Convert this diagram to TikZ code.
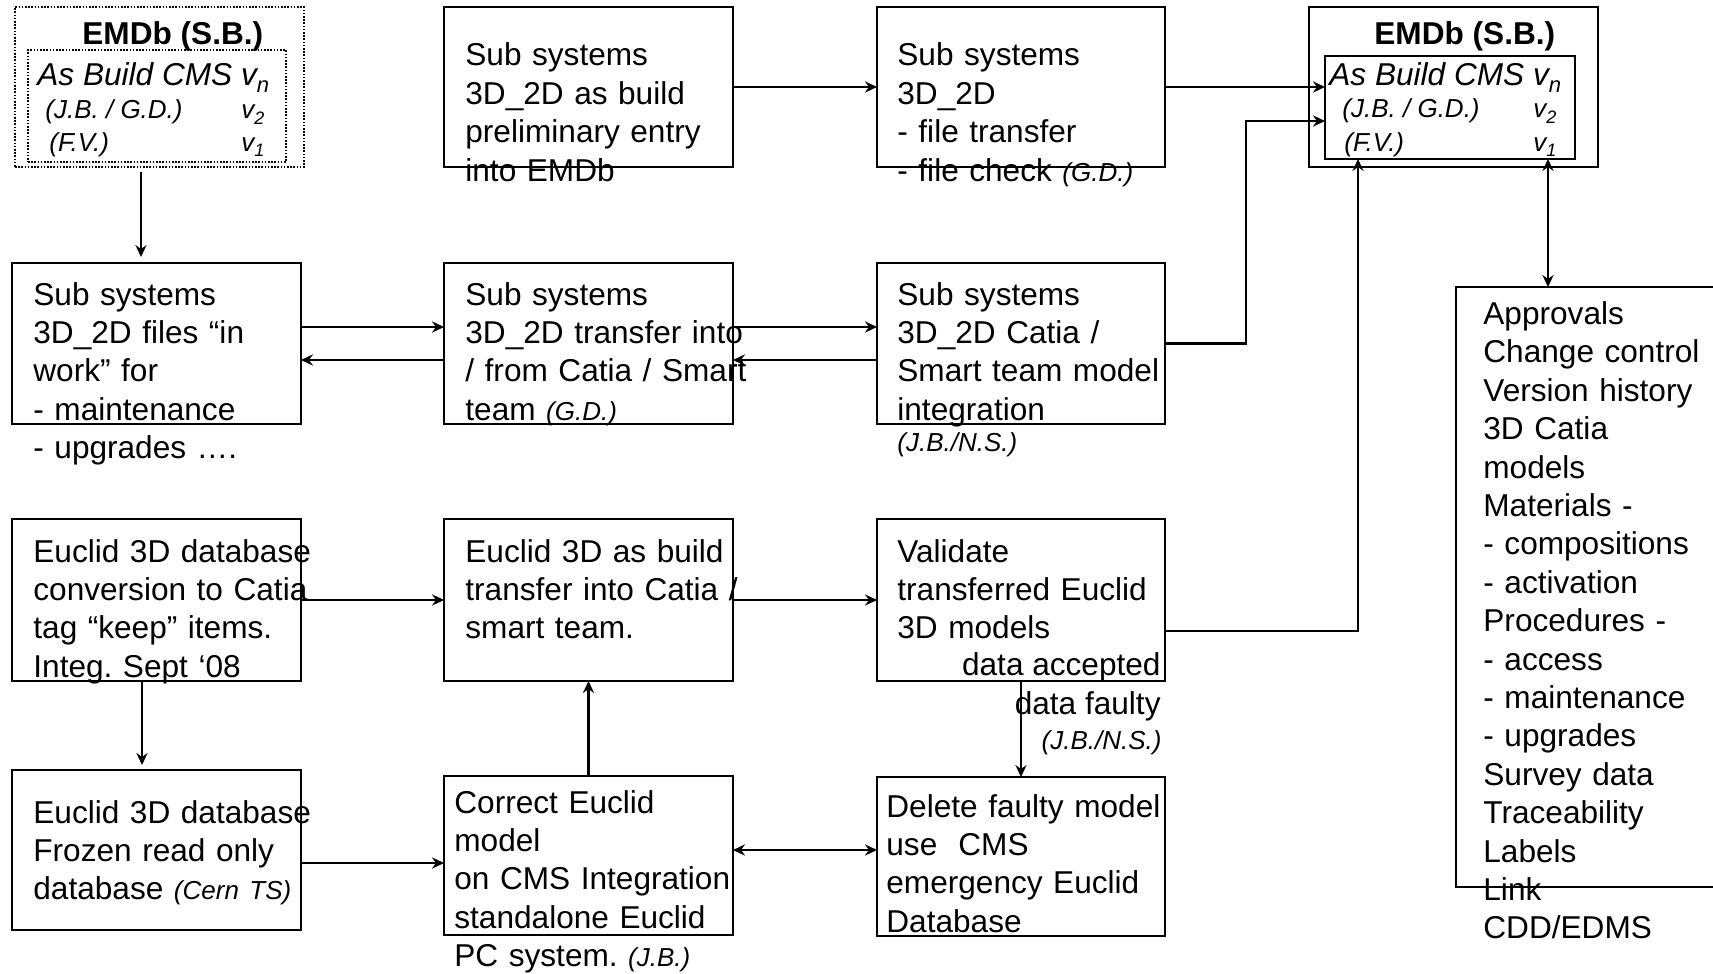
\documentclass[tikz,border=0pt]{standalone}
\usepackage{fontspec}
\setmainfont{Liberation Sans}
\usetikzlibrary{arrows.meta}
\frenchspacing
\newcommand\mybig{\fontsize{15.8}{19.2}\selectfont}
\newcommand\mysmall{\fontsize{13}{15}\selectfont\itshape}
\newcommand\mysubn[2]{\raisebox{-0.22em}{\fontsize{#1}{#1}\selectfont #2}}
\begin{document}
\begin{tikzpicture}[x=0.5pt,y=-0.5pt,
  bx/.style={draw, line width=1.25pt, anchor=north west, inner sep=0pt, outer sep=0pt},
  dbx/.style={draw, line width=0.9pt, dash pattern=on 0.8pt off 0.8pt, anchor=north west, inner sep=0pt, outer sep=0pt},
  tx/.style={anchor=base west, inner sep=0pt, text width=230pt, align=left, font=\mybig},
  lab/.style={inner sep=0pt, font=\mysmall},
  arr/.style={line width=1.1pt, -{Stealth[length=6pt,width=5.6pt,inset=2pt]}},
  arrr/.style={line width=1.1pt, {Stealth[length=6pt,width=5.6pt,inset=2pt]}-{Stealth[length=6pt,width=5.6pt,inset=2pt]}}
]
\useasboundingbox (0,0) rectangle (1713,974);

% ---- left EMDb (dotted)
\node[dbx, minimum width=144.5pt, minimum height=80pt] (ldbO) at (15,7) {};
\node[dbx, minimum width=129pt, minimum height=56pt] (ldbI) at (28,50) {};
\node[anchor=base west, inner sep=0pt, font=\mybig\bfseries] (ldbT) at (82,45) {EMDb (S.B.)};
\node[anchor=base west, inner sep=0pt, font=\mybig\itshape] (ldbV) at (37,86) {As Build CMS v\mysubn{11}{n}};
\node[anchor=base west, lab] (ldbJ) at (45,119) {(J.B. / G.D.)};
\node[anchor=base west, lab] (ldbJv) at (241,119) {v\mysubn{9}{2}};
\node[anchor=base west, lab] (ldbF) at (49,151) {(F.V.)};
\node[anchor=base west, lab] (ldbFv) at (241,151) {v\mysubn{9}{1}};

% ---- right EMDb
\node[bx, minimum width=144.5pt, minimum height=80pt] (rdbO) at (1309,7) {};
\node[bx, minimum width=125pt, minimum height=51.5pt] (rdbI) at (1325,56) {};
\node[anchor=base west, inner sep=0pt, font=\mybig\bfseries] (rdbT) at (1374,45) {EMDb (S.B.)};
\node[anchor=base west, inner sep=0pt, font=\mybig\itshape] (rdbV) at (1329,86) {As Build CMS v\mysubn{11}{n}};
\node[anchor=base west, lab] (rdbJ) at (1342,118) {(J.B. / G.D.)};
\node[anchor=base west, lab] (rdbJv) at (1533,118) {v\mysubn{9}{2}};
\node[anchor=base west, lab] (rdbF) at (1344,151) {(F.V.)};
\node[anchor=base west, lab] (rdbFv) at (1533,151) {v\mysubn{9}{1}};

% ---- boxes
\node[bx, minimum width=144.5pt, minimum height=80pt] (A) at (444,7) {};
\node[bx, minimum width=144pt, minimum height=80pt] (B) at (877,7) {};
\node[bx, minimum width=144.5pt, minimum height=80.5pt] (C) at (12,263) {};
\node[bx, minimum width=144.5pt, minimum height=80.5pt] (D) at (444,263) {};
\node[bx, minimum width=144pt, minimum height=80.5pt] (E) at (877,263) {};
\node[bx, minimum width=144.5pt, minimum height=81pt] (F) at (12,519) {};
\node[bx, minimum width=144.5pt, minimum height=81pt] (G) at (444,519) {};
\node[bx, minimum width=144pt, minimum height=81pt] (H) at (877,519) {};
\node[bx, minimum width=144.5pt, minimum height=80pt] (I) at (12,770) {};
\node[bx, minimum width=144.5pt, minimum height=79.5pt] (J) at (444,776) {};
\node[bx, minimum width=144pt, minimum height=79.5pt] (K) at (877,777) {};
\node[bx, minimum width=137pt, minimum height=300pt] (L) at (1456,287) {};

% ---- texts
\node[tx] (tA) at (465,66) {Sub systems\\3D\_2D as build\\preliminary entry\\into EMDb};
\node[tx] (tB) at (897,66) {Sub systems\\3D\_2D\\- file transfer\\- file check {\mysmall(G.D.)}};
\node[tx] (tC) at (33,305) {Sub systems\\3D\_2D files “in\\work” for\\- maintenance\\- upgrades ….};
\node[tx] (tD) at (465,305) {Sub systems\\3D\_2D transfer into\\/ from Catia / Smart\\team {\mysmall(G.D.)}};
\node[tx] (tE) at (897,305) {Sub systems\\3D\_2D Catia /\\Smart team model\\integration};
\node[anchor=base west, lab] (tEl) at (897,451) {(J.B./N.S.)};
\node[tx] (tF) at (33,562) {Euclid 3D database\\conversion to Catia\\tag “keep” items.\\Integ. Sept ‘08};
\node[tx] (tG) at (465,562) {Euclid 3D as build\\transfer into Catia /\\smart team.};
\node[tx] (tH) at (897,562) {Validate\\transferred Euclid\\3D models};
\node[anchor=base east, inner sep=0pt, font=\mybig] (tHa) at (1161,675) {data accepted};
\node[anchor=base east, inner sep=0pt, font=\mybig] (tHf) at (1161,714) {data faulty};
\node[anchor=base east, lab] (tHl) at (1162,749) {(J.B./N.S.)};
\node[tx] (tI) at (33,823) {Euclid 3D database\\Frozen read only\\database {\mysmall(Cern TS)}};
\node[tx] (tJ) at (454,813) {Correct Euclid\\model\\on CMS Integration\\standalone Euclid\\PC system. {\mysmall(J.B.)}};
\node[tx] (tK) at (886,817) {Delete faulty model\\use\ \ CMS\\emergency Euclid\\Database};
\node[tx] (tL) at (1483,324.5) {Approvals\\Change control\\Version history\\3D Catia\\models\\Materials -\\- compositions\\- activation\\Procedures -\\- access\\- maintenance\\- upgrades\\Survey data\\Traceability\\Labels\\Link\\CDD/EDMS};

% ---- connectors
\coordinate (e1) at (1246,0);
\coordinate (h1) at (1358,0);
\coordinate (r1) at (1548,0);
\draw[arr, shorten <=2.5pt, shorten >=3pt] ([xshift=-9.25pt]ldbO.south) -- ([xshift=-9.25pt]ldbO.south |- C.north);
\draw[arr] (A.east) -- (B.west);
\draw[arr] (B.east) -- (B.east -| rdbI.west);
\draw[arr] ([yshift=8.25pt]C.east) -- ([yshift=8.25pt]C.east -| D.west);
\draw[arr] ([yshift=-8.25pt]D.west) -- ([yshift=-8.25pt]D.west -| C.east);
\draw[arr] ([yshift=8.25pt]D.east) -- ([yshift=8.25pt]D.east -| E.west);
\draw[arr] ([yshift=-8.25pt]E.west) -- ([yshift=-8.25pt]E.west -| D.east);
\draw[arr] (E.east) -- (E.east -| e1) |- ([yshift=-6.75pt]rdbI.west);
\draw[arr] (F.east) -- (F.east -| G.west);
\draw[arr] (G.east) -- (G.east -| H.west);
\draw[arr] ([yshift=-15.5pt]H.east) -| (h1 |- rdbI.south);
\draw[arrr] (r1 |- rdbI.south) -- (r1 |- L.north);
\draw[arr] (H.south) -- (H.south |- K.north);
\draw[arr, shorten >=2.5pt] ([xshift=-7.25pt]F.south) -- ([xshift=-7.25pt]F.south |- I.north);
\draw[arr] ([yshift=-6.5pt]I.east) -- ([yshift=-6.5pt]I.east -| J.west);
\draw[arr] (J.north) -- (J.north |- G.south);
\draw[arrr] ([yshift=2.75pt]J.east) -- ([yshift=2.75pt]J.east -| K.west);
\end{tikzpicture}
\end{document}
